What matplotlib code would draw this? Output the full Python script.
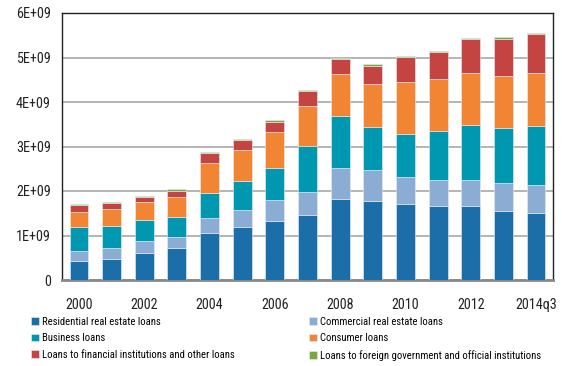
import matplotlib
matplotlib.use("Agg")
import matplotlib.pyplot as plt
import numpy as np

plt.rcParams['font.family'] = ['Roboto Condensed', 'DejaVu Sans']

categories = ['2000', '2001', '2002', '2003', '2004', '2005', '2006', '2007',
              '2008', '2009', '2010', '2011', '2012', '2013', '2014q3']
tick_labels = ['2000', '', '2002', '', '2004', '', '2006', '', '2008', '',
               '2010', '', '2012', '', '2014q3']

residential = [0.43, 0.48, 0.615, 0.72, 1.06, 1.18, 1.32, 1.47, 1.82, 1.78, 1.71, 1.665, 1.665, 1.56, 1.515]
commercial = [0.22, 0.23, 0.265, 0.25, 0.34, 0.395, 0.47, 0.51, 0.70, 0.695, 0.615, 0.585, 0.585, 0.62, 0.625]
business = [0.55, 0.51, 0.47, 0.45, 0.56, 0.645, 0.72, 1.04, 1.155, 0.955, 0.945, 1.09, 1.24, 1.225, 1.32]
consumer = [0.32, 0.38, 0.40, 0.45, 0.66, 0.705, 0.805, 0.88, 0.955, 0.98, 1.185, 1.17, 1.17, 1.175, 1.20]
financial_other = [0.16, 0.13, 0.11, 0.14, 0.23, 0.215, 0.245, 0.345, 0.335, 0.41, 0.555, 0.605, 0.75, 0.84, 0.86]
foreign = [0.02, 0.025, 0.03, 0.03, 0.03, 0.03, 0.03, 0.03, 0.03, 0.03, 0.03, 0.03, 0.02, 0.04, 0.03]

series = [
    ('Residential real estate loans', residential, '#1c6ea9'),
    ('Commercial real estate loans', commercial, '#8badd3'),
    ('Business loans', business, '#0098b1'),
    ('Consumer loans', consumer, '#f28534'),
    ('Loans to financial institutions and other loans', financial_other, '#c44442'),
    ('Loans to foreign government and official institutions', foreign, '#77a844'),
]

fig = plt.figure(figsize=(5.62, 3.66), dpi=100)
ax = fig.add_axes([62 / 562, 1 - 280 / 366, 491 / 562, 267 / 366])

x = np.arange(len(categories))
bottom = np.zeros(len(categories))
handles = {}
for name, vals, col in series:
    v = np.array(vals) * 1e9
    b = ax.bar(x, v, 0.58, bottom=bottom, color=col, edgecolor='#e8eef5', linewidth=0.4, label=name, zorder=3)
    handles[name] = b
    bottom += v

ax.set_ylim(0, 6e9)
ax.set_xlim(-0.52, len(categories) - 0.48)
ax.set_yticks(np.arange(0, 7e9, 1e9))
ax.set_yticklabels(['0', '1E+09', '2E+09', '3E+09', '4E+09', '5E+09', '6E+09'], fontsize=10.2, color='#222222')
ax.set_xticks(x)
ax.set_xticklabels(tick_labels, fontsize=10.2, color='#222222')
ax.tick_params(axis='both', length=0)
ax.tick_params(axis='y', pad=8)
ax.tick_params(axis='x', pad=13)
ax.yaxis.grid(True, color='#a8a8a8', linewidth=1.2, zorder=0)
for s in ['top', 'right', 'left']:
    ax.spines[s].set_color('#222222')
    ax.spines[s].set_linewidth(1.0)
ax.spines['bottom'].set_color('#888888')
ax.spines['bottom'].set_linewidth(2.0)

legend_kw = dict(loc='upper left', frameon=False, fontsize=7.7, handlelength=0.72,
                 handleheight=0.72, handletextpad=0.3, labelspacing=0.6,
                 borderpad=0, borderaxespad=0)
col1 = [0, 2, 4]
col2 = [1, 3, 5]
fig.legend([handles[series[i][0]] for i in col1], [series[i][0] for i in col1],
           bbox_to_anchor=(31 / 562, 1 - 317 / 366), **legend_kw)
fig.legend([handles[series[i][0]] for i in col2], [series[i][0] for i in col2],
           bbox_to_anchor=(309 / 562, 1 - 317 / 366), **legend_kw)

fig.savefig('out.png', dpi=100)
